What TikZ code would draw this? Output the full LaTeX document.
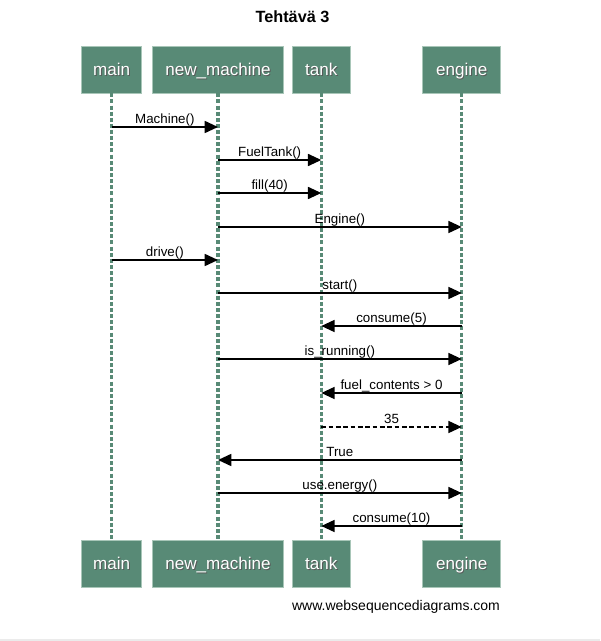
\documentclass[tikz,border=0pt]{standalone}
\usepackage{fontspec}
\setmainfont{Liberation Sans}
\usetikzlibrary{arrows.meta}
\definecolor{actorfill}{HTML}{588A76}
\definecolor{actoredge}{HTML}{A8C6B8}
\newcommand\shadowtext[1]{\makebox[0pt][l]{\kern0.7pt\raisebox{-0.7pt}{\color{black!65}#1}}#1}
\tikzset{
	actor/.style={draw=actoredge, fill=actorfill, text=white, minimum height=35pt, inner sep=0pt, text height=10.5pt, text depth=1.5pt, font=\fontsize{12.8}{14}\selectfont},
	life/.style={draw=actorfill, line width=2.4pt, dash pattern=on 3pt off 1.6pt},
	msg/.style={-{Triangle[length=10pt,width=9pt]}, line width=1.3pt},
	reply/.style={msg, dash pattern=on 3.5pt off 2pt},
	lbl/.style={font=\fontsize{10}{11}\selectfont, anchor=base, yshift=2.8pt, inner sep=0pt}
}
\begin{document}
\begin{tikzpicture}[x=0.75pt, y=-0.75pt]
				\useasboundingbox (0,0) rectangle (600,641);
				\node[font=\bfseries\fontsize{12.2}{14}\selectfont] (title) at (292.5,17) {Tehtävä 3};

				% participants, top and bottom, with their lifelines
				\foreach \n/\x/\w/\t in {main/111.7/45/main, mach/218/98/new\_machine, tank/321.3/43/tank, eng/461.7/58.5/engine}
					{
						\node[actor, minimum width=\w pt] (T\n) at (\x,69.7) {\shadowtext{\t}};
						\node[actor, minimum width=\w pt] (B\n) at (\x,563.5) {\shadowtext{\t}};
						\draw[life] (T\n) -- (B\n);
					}

				% messages
				\foreach \y/\a/\b/\t/\s in {127/main/mach/Machine()/msg, 160/mach/tank/FuelTank()/msg, 193/mach/tank/fill(40)/msg, 227/mach/eng/Engine()/msg, 260/main/mach/drive()/msg, 293/mach/eng/start()/msg, 326/eng/tank/consume(5)/msg, 359/mach/eng/is\_running()/msg, 393/eng/tank/fuel\_contents > 0/msg, 427/tank/eng/35/reply, 460/eng/mach/True/msg, 493/mach/eng/use.energy()/msg, 526/eng/tank/consume(10)/msg}
					{
						\draw[\s] (T\a |- 0,\y) -- node[lbl] {\t} (T\b |- 0,\y);
					}

				\node[font=\fontsize{10.5}{12}\selectfont] (site) at (396,606.5) {www.websequencediagrams.com};
				\draw[black!8, line width=1pt] (0,640) -- (600,640);
			\end{tikzpicture}
\end{document}
